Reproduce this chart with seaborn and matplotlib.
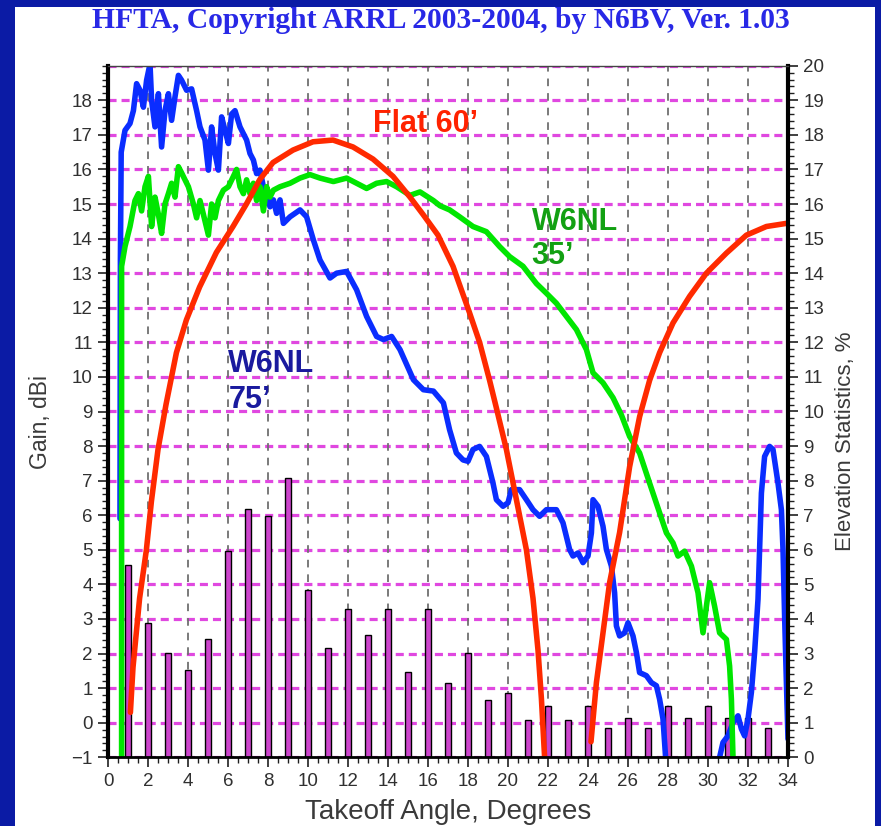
import numpy as np
import pandas as pd
import matplotlib
matplotlib.use("Agg")
import matplotlib.pyplot as plt
from matplotlib.patches import Rectangle
from matplotlib.ticker import MultipleLocator
import seaborn as sns

sns.set_theme(style="ticks")
plt.rcParams["font.family"] = ["Liberation Sans", "DejaVu Sans"]
plt.rcParams["lines.scale_dashes"] = False

# ---- Elevation statistics (percent of openings at each takeoff angle) ----
stat_angle = list(range(1, 34))
stat_pct = [5.56, 3.87, 3.03, 2.52, 3.42, 5.96, 7.18, 6.97, 8.07, 4.84,
            3.15, 4.28, 3.54, 4.28, 2.48, 4.28, 2.14, 3.03, 1.65, 1.86,
            1.09, 1.47, 1.09, 1.47, 0.84, 1.14, 0.84, 1.47, 1.14, 1.47,
            1.14, 1.14, 0.84]

# ---- Flat 60' antenna: two lobes ----
flat_lobe1_angle = [1.12, 1.25, 1.58, 1.92, 2.17, 2.5, 2.9, 3.42, 3.92, 4.58,
                    5.42, 6.25, 6.92, 7.58, 8.25, 9.25, 10.25, 11.25, 12.25,
                    13.25, 14.25, 15.1, 15.75, 16.5, 17.25, 18.08, 18.58,
                    19.08, 19.42, 19.92, 20.42, 20.92, 21.25, 21.5, 21.67, 21.83]
flat_lobe1_gain = [0.3, 1.6, 3.6, 5.0, 6.4, 7.9, 9.2, 10.7, 11.65, 12.6,
                   13.6, 14.35, 15.0, 15.7, 16.2, 16.56, 16.8, 16.85, 16.65,
                   16.3, 15.8, 15.2, 14.7, 14.1, 13.2, 11.85, 11.0,
                   9.9, 9.1, 7.9, 6.45, 5.0, 3.6, 2.1, 0.7, -1.0]
flat_lobe2_angle = [24.15, 24.42, 24.75, 25.08, 25.58, 26.08, 26.58, 27.08,
                    27.58, 28.25, 29.08, 29.92, 30.92, 31.92, 32.92, 33.92]
flat_lobe2_gain = [-0.55, 1.16, 2.6, 4.05, 5.5, 7.4, 8.85, 9.9,
                   10.7, 11.56, 12.33, 13.0, 13.58, 14.1, 14.35, 14.44]

# ---- W6NL at 35' ----
w35_angle = [0.68, 0.68, 0.85, 1.10, 1.35, 1.52, 1.68, 1.85, 2.02, 2.18, 2.35,
             2.52, 2.68, 2.85, 3.02, 3.18, 3.35, 3.52, 3.68, 3.85, 4.02, 4.27,
             4.43, 4.60, 4.77, 5.02, 5.18, 5.35, 5.52, 5.77, 6.02, 6.27, 6.43,
             6.60, 6.77, 6.93, 7.10, 7.27, 7.43, 7.60, 7.77, 7.93, 8.10, 8.27,
             8.60, 9.10, 9.60, 10.10, 10.60, 11.27, 11.93, 12.60, 12.93, 13.43,
             13.93, 14.43, 15.10, 15.60, 16.27, 16.60, 17.08, 17.58, 18.25,
             18.92, 19.58, 20.08, 20.75, 21.42, 21.92, 22.42, 22.92, 23.42,
             23.92, 24.25, 24.75, 25.25, 25.67, 26.08, 26.58, 27.08, 27.58,
             27.92, 28.25, 28.50, 28.83, 29.17, 29.50, 29.75, 29.92, 30.08,
             30.33, 30.58, 30.92, 31.08, 31.17, 31.25]
w35_gain = [-1.0, 13.2, 13.77, 14.35, 15.1, 15.3, 14.8, 15.5, 15.8, 14.35, 15.2,
            14.7, 14.15, 15.0, 15.3, 15.6, 15.2, 16.08, 15.9, 15.7, 15.5, 15.0,
            14.6, 15.1, 14.7, 14.1, 15.0, 14.6, 15.1, 15.4, 15.5, 15.8, 16.0,
            15.5, 15.3, 15.7, 15.3, 15.6, 15.1, 15.5, 14.8, 15.5, 15.2, 15.4,
            15.5, 15.6, 15.75, 15.85, 15.75, 15.65, 15.75, 15.55, 15.45, 15.6,
            15.65, 15.5, 15.25, 15.35, 15.1, 14.95, 14.83, 14.63, 14.35,
            14.2, 13.77, 13.48, 13.2, 12.7, 12.42, 12.13, 11.75, 11.37,
            10.79, 10.12, 9.83, 9.4, 8.9, 8.28, 7.8, 6.93, 6.07,
            5.49, 5.2, 4.82, 4.96, 4.53, 3.76, 2.6, 3.37, 4.05,
            3.37, 2.6, 2.41, 1.64, 0.68, -1.0]

# ---- W6NL at 75': main run, then the high-angle lobe ----
w75_main_angle = [0.60, 0.62, 0.66, 0.85, 1.10, 1.27, 1.43, 1.60, 1.77, 1.93,
                  2.10, 2.18, 2.35, 2.52, 2.68, 2.85, 3.02, 3.18, 3.35, 3.52,
                  3.68, 3.93, 4.18, 4.43, 4.60, 4.85, 5.02, 5.18, 5.35, 5.52,
                  5.68, 5.85, 6.02, 6.18, 6.35, 6.60, 6.93, 7.10, 7.27, 7.43,
                  7.60, 7.77, 7.93, 8.10, 8.27, 8.43, 8.60, 8.77, 9.10, 9.60,
                  9.93, 10.27, 10.60, 11.10, 11.43, 11.93, 12.43, 12.93, 13.43,
                  13.77, 14.18, 14.60, 15.27, 15.77, 16.27, 16.77, 17.08, 17.42,
                  17.75, 18.00, 18.25, 18.58, 18.92, 19.25, 19.42, 19.75, 20.00,
                  20.17, 20.58, 20.92, 21.25, 21.58, 21.92, 22.42, 22.75, 23.08,
                  23.25, 23.50, 23.75, 24.00, 24.17, 24.25, 24.50, 24.75, 24.92,
                  25.17, 25.33, 25.42, 25.58, 25.83, 26.00, 26.25, 26.42, 26.58,
                  26.92, 27.17, 27.42, 27.58, 27.75, 27.88]
w75_main_gain = [5.9, 13.4, 16.5, 17.13, 17.33, 17.7, 18.48, 18.29, 17.8, 18.58,
                 19.05, 18.0, 17.23, 18.19, 16.65, 17.7, 18.19, 17.42, 18.1, 18.72,
                 18.58, 18.29, 18.33, 17.7, 17.23, 16.85, 15.98, 17.23, 16.46, 15.98,
                 17.52, 17.13, 16.75, 17.6, 17.7, 17.23, 16.85, 16.46, 16.27, 15.88,
                 15.98, 15.5, 15.3, 14.92, 15.12, 14.73, 15.12, 14.44, 14.63, 14.83,
                 14.63, 13.96, 13.38, 12.86, 13.0, 13.05, 12.52, 11.75, 11.17,
                 11.08, 11.17, 10.79, 9.92, 9.63, 9.59, 9.25, 8.47, 7.8,
                 7.6, 7.56, 7.9, 7.99, 7.7, 6.93, 6.45, 6.26, 6.36,
                 6.74, 6.74, 6.45, 6.16, 5.97, 6.16, 6.16, 5.78, 5.01,
                 4.82, 4.91, 4.63, 4.82, 5.49, 6.45, 6.26, 5.68, 5.01,
                 4.53, 3.76, 2.8, 2.51, 2.6, 2.89, 2.51, 2.03, 1.45,
                 1.36, 1.16, 1.07, 0.68, 0.11, -1.0]
w75_high_angle = [30.58, 30.75, 31.00, 31.25, 31.50, 31.67, 31.83, 32.00, 32.17,
                  32.33, 32.50, 32.58, 32.67, 32.83, 33.08, 33.25, 33.50, 33.67,
                  33.75, 33.83, 33.92, 34.00]
w75_high_gain = [-1.0, -0.57, -0.38, 0.0, 0.2, -0.18, -0.38, 0.11, 0.88,
                 2.03, 3.57, 5.01, 6.64, 7.7, 7.99, 7.9, 6.93, 6.16,
                 5.01, 3.09, 1.16, -0.47]


def segments(*parts):
    frames = []
    for i, (xs, ys) in enumerate(parts):
        frames.append(pd.DataFrame({"angle": xs, "gain": ys, "seg": i}))
    return pd.concat(frames, ignore_index=True)


flat_df = segments((flat_lobe1_angle, flat_lobe1_gain), (flat_lobe2_angle, flat_lobe2_gain))
w35_df = segments((w35_angle, w35_gain))
w75_df = segments((w75_main_angle, w75_main_gain), (w75_high_angle, w75_high_gain))

W, H = 881, 826
fig = plt.figure(figsize=(W / 100, H / 100), dpi=100)
fig.patch.set_facecolor("#0b1ba5")
fig.add_artist(Rectangle((15 / W, 0), 860 / W, 819 / H, transform=fig.transFigure,
                         facecolor="white", edgecolor="none", zorder=0))

ax = fig.add_axes([108 / W, 68.7 / H, 680 / W, 691.6 / H])
ax2 = ax.twinx()
ax.set_zorder(3)
ax.patch.set_visible(False)
ax2.patch.set_visible(True)
ax2.patch.set_facecolor("white")

# statistics bars on the right-hand scale
sns.barplot(x=stat_angle, y=stat_pct, native_scale=True, width=0.3,
            color="#cc44cc", saturation=1, edgecolor="black", linewidth=1.0,
            ax=ax2, zorder=3)
ax2.set_ylim(0, 20)
ax2.set_yticks(range(0, 21))
ax2.yaxis.set_minor_locator(MultipleLocator(0.2))
ax2.set_axisbelow(True)
ax2.grid(axis="y", which="major", color="#e048e0", linewidth=2.3,
         linestyle=(0, (5.8, 3.6)))
ax2.vlines(np.arange(2, 34, 2), 0, 20, colors="#707070", linewidth=1.3,
           linestyles=[(0, (5.5, 5.0))], zorder=0.6)

# gain curves on the left-hand scale
lw = 4.0
sns.lineplot(data=w75_df, x="angle", y="gain", units="seg", estimator=None,
             sort=False, color="#0a2dff", linewidth=lw, ax=ax, legend=False)
sns.lineplot(data=w35_df, x="angle", y="gain", units="seg", estimator=None,
             sort=False, color="#00e600", linewidth=lw, ax=ax, legend=False)
sns.lineplot(data=flat_df, x="angle", y="gain", units="seg", estimator=None,
             sort=False, color="#ff2a00", linewidth=lw, ax=ax, legend=False)

ax.set_xlim(0, 34)
ax.set_ylim(-1, 19)
ax.set_xticks(range(0, 35, 2))
ax.xaxis.set_minor_locator(MultipleLocator(0.5))
ax.set_yticks(range(-1, 19))
ax.yaxis.set_minor_locator(MultipleLocator(0.2))

tick_color = "#303030"
ax.tick_params(axis="both", which="major", length=7, width=1.2, color="#202020",
               labelsize=13.5, labelcolor=tick_color, direction="out",
               left=True, bottom=True, right=False, top=False, pad=4)
ax.tick_params(axis="both", which="minor", length=4, width=1.0, color="#202020",
               direction="out", left=True, bottom=True, right=False, top=False)
ax2.tick_params(axis="y", which="major", length=7, width=1.2, color="#202020",
                labelsize=13.5, labelcolor=tick_color, direction="out",
                right=True, left=False, pad=4)
ax2.tick_params(axis="y", which="minor", length=4, width=1.0, color="#202020",
                direction="out", right=True, left=False)

for name, sp in ax.spines.items():
    sp.set_visible(True)
    sp.set_color("black")
ax.spines["left"].set_linewidth(3)
ax.spines["right"].set_linewidth(3)
ax.spines["bottom"].set_linewidth(2)
ax.spines["top"].set_linewidth(1)
ax.spines["top"].set_color("#444444")
for sp in ax2.spines.values():
    sp.set_visible(False)

label_color = "#3a3a3a"
ax.set_xlabel("Takeoff Angle, Degrees", fontsize=20, color=label_color)
ax.xaxis.set_label_coords(0.5, -0.060)
ax.set_ylabel("Gain, dBi", fontsize=16.5, color=label_color)
ax.yaxis.set_label_coords(-0.082, 0.4845)
ax2.set_ylabel("Elevation Statistics, %", fontsize=16, color=label_color)
ax2.yaxis.set_label_coords(1.069, 0.457)

# curve annotations
ax.text(13.27, 17.07, "Flat 60\u2019", color="#ff2200", fontsize=22,
        fontweight="bold", ha="left", va="baseline")
ax.text(6.02, 10.13, "W6NL", color="#1a1a9e", fontsize=22,
        fontweight="bold", ha="left", va="baseline")
ax.text(6.02, 9.09, "75\u2019", color="#1a1a9e", fontsize=22,
        fontweight="bold", ha="left", va="baseline")
ax.text(21.18, 14.26, "W6NL", color="#12a012", fontsize=22,
        fontweight="bold", ha="left", va="baseline")
ax.text(21.18, 13.26, "35\u2019", color="#12a012", fontsize=22,
        fontweight="bold", ha="left", va="baseline")

fig.text(0.5, (H - 28) / H, "HFTA, Copyright ARRL 2003-2004, by N6BV, Ver. 1.03",
         family=["Liberation Serif", "DejaVu Serif"], fontweight="bold",
         fontsize=21.3, color="#2828e6", ha="center", va="baseline")

fig.savefig("out.png", dpi=100, facecolor=fig.get_facecolor())
